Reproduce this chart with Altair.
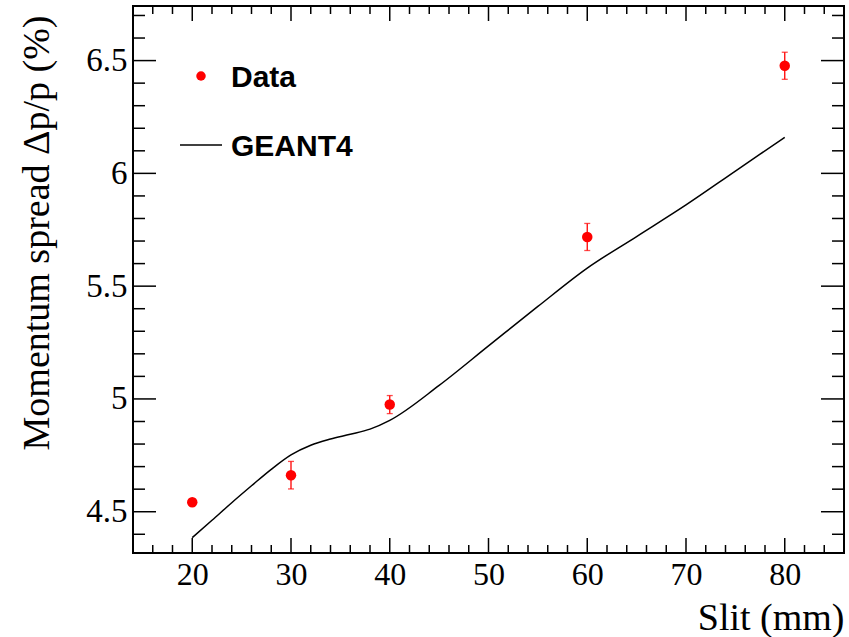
import altair as alt
import pandas as pd

# ---- data ----
slit_data = [20, 30, 40, 60, 80]
spread_data = [4.542, 4.662, 4.975, 5.718, 6.477]
spread_err = [0.015, 0.061, 0.040, 0.060, 0.060]

slit_sim = [20, 22, 24, 26, 28, 30, 32, 34, 36, 38, 40, 45, 50, 55, 60, 65, 70, 75, 80]
spread_sim = [4.385, 4.462, 4.54, 4.615, 4.688, 4.752, 4.795, 4.822, 4.843, 4.866, 4.905,
              5.06, 5.235, 5.41, 5.58, 5.72, 5.86, 6.01, 6.16]

x_major = [20, 30, 40, 50, 60, 70, 80]
x_minor = [v for v in range(16, 86, 2) if v % 10 != 0]
y_major = [4.5, 5.0, 5.5, 6.0, 6.5]
y_minor = [4.4, 4.6, 4.7, 4.8, 4.9, 5.1, 5.2, 5.3, 5.4, 5.6, 5.7, 5.8, 5.9,
           6.1, 6.2, 6.3, 6.4, 6.6, 6.7]

legend_labels = ["Data", "GEANT4"]

W, H = 711, 547
SERIF = "Liberation Serif"
SANS = "Liberation Sans"

xscale = alt.Scale(domain=[14, 86], nice=False, zero=False)
yscale = alt.Scale(domain=[4.317, 6.742], nice=False, zero=False)

df_data = pd.DataFrame({"slit": slit_data, "spread": spread_data, "err": spread_err})
df_data["lo"] = df_data["spread"] - df_data["err"]
df_data["hi"] = df_data["spread"] + df_data["err"]
df_sim = pd.DataFrame({"slit": slit_sim, "spread": spread_sim})

X_TITLE = "Slit (mm)"
Y_TITLE = "Momentum spread \u0394p/p (%)"

x_axis = alt.Axis(
    values=x_major, format="d", ticks=False, domain=False, grid=False,
    labelFont=SERIF, labelFontSize=32, labelColor="black", labelPadding=6,
    titleFont=SERIF, titleFontSize=38, titleFontWeight="normal",
    titleColor="black", titleAnchor="end", titleAlign="right", titleBaseline="alphabetic",
    titleX=W, titleY=76,
)
y_axis = alt.Axis(
    values=y_major,
    labelExpr="datum.value == 5 || datum.value == 6 ? format(datum.value, 'd') : format(datum.value, '.1f')",
    ticks=False, domain=False, grid=False,
    labelFont=SERIF, labelFontSize=33, labelColor="black", labelPadding=6,
    titleFont=SERIF, titleFontSize=38,
    titleFontWeight="normal", titleColor="black", titleAngle=-90,
    titleAnchor="end", titleAlign="right", titleBaseline="alphabetic",
    titleX=-85, titleY=9,
)


def X(field):
    return alt.X(field, scale=xscale, title=X_TITLE)


def Y(field):
    return alt.Y(field, scale=yscale, title=Y_TITLE)


points = alt.Chart(df_data).mark_point(filled=True, shape="circle", size=110, color="#ff0000", opacity=1).encode(
    x=alt.X("slit:Q", scale=xscale, axis=x_axis, title=X_TITLE),
    y=alt.Y("spread:Q", scale=yscale, axis=y_axis, title=Y_TITLE),
)

line = alt.Chart(df_sim).mark_line(color="black", strokeWidth=1.5, interpolate="monotone").encode(
    x=X("slit:Q"), y=Y("spread:Q"),
)

err_rule = alt.Chart(df_data).mark_rule(color="#ff0000", strokeWidth=1.3).encode(
    x=X("slit:Q"), y=Y("lo:Q"), y2="hi:Q",
)
cap_lo = alt.Chart(df_data).mark_tick(color="#ff0000", orient="horizontal", size=6, thickness=1.3).encode(
    x=X("slit:Q"), y=Y("lo:Q"),
)
cap_hi = alt.Chart(df_data).mark_tick(color="#ff0000", orient="horizontal", size=6, thickness=1.3).encode(
    x=X("slit:Q"), y=Y("hi:Q"),
)


# inward ticks on all four sides (ROOT style)
def xticks(vals, length):
    d = pd.DataFrame({"v": vals})
    b = alt.Chart(d).mark_rule(color="black", strokeWidth=1.5).encode(
        x=X("v:Q"), y=alt.value(H), y2=alt.value(H - length))
    t = alt.Chart(d).mark_rule(color="black", strokeWidth=1.5).encode(
        x=X("v:Q"), y=alt.value(0), y2=alt.value(length))
    return [b, t]


def yticks(vals, length):
    d = pd.DataFrame({"v": vals})
    l = alt.Chart(d).mark_rule(color="black", strokeWidth=1.5).encode(
        y=Y("v:Q"), x=alt.value(0), x2=alt.value(length))
    r = alt.Chart(d).mark_rule(color="black", strokeWidth=1.5).encode(
        y=Y("v:Q"), x=alt.value(W), x2=alt.value(W - length))
    return [l, r]


tick_layers = xticks(x_major, 15) + xticks(x_minor, 8) + yticks(y_major, 23) + yticks(y_minor, 12)

# legend
df_leg1 = pd.DataFrame({"label": [legend_labels[0]]})
df_leg2 = pd.DataFrame({"label": [legend_labels[1]]})
leg_dot = alt.Chart(df_leg1).mark_point(filled=True, shape="circle", size=90, color="#ff0000", opacity=1).encode(
    x=alt.value(68), y=alt.value(70))
leg_line = alt.Chart(df_leg2).mark_rule(color="black", strokeWidth=1.5).encode(
    x=alt.value(47), x2=alt.value(89), y=alt.value(139))
text_style = dict(align="left", baseline="middle", font=SANS, fontWeight="bold", fontSize=30, color="black")
leg_t1 = alt.Chart(df_leg1).mark_text(**text_style).encode(x=alt.value(98), y=alt.value(72), text="label:N")
leg_t2 = alt.Chart(df_leg2).mark_text(**text_style).encode(x=alt.value(98), y=alt.value(141), text="label:N")

chart = alt.layer(
    points, line, err_rule, cap_lo, cap_hi, *tick_layers, leg_dot, leg_line, leg_t1, leg_t2
).properties(
    width=W, height=H,
    padding={"left": 133, "top": 6, "right": 5, "bottom": 84},
    autosize=alt.AutoSizeParams(type="none"),
    background="white",
).configure_view(
    stroke="black", strokeWidth=2
)

chart.save("out.html", embed_options={"renderer": "svg", "actions": False})
